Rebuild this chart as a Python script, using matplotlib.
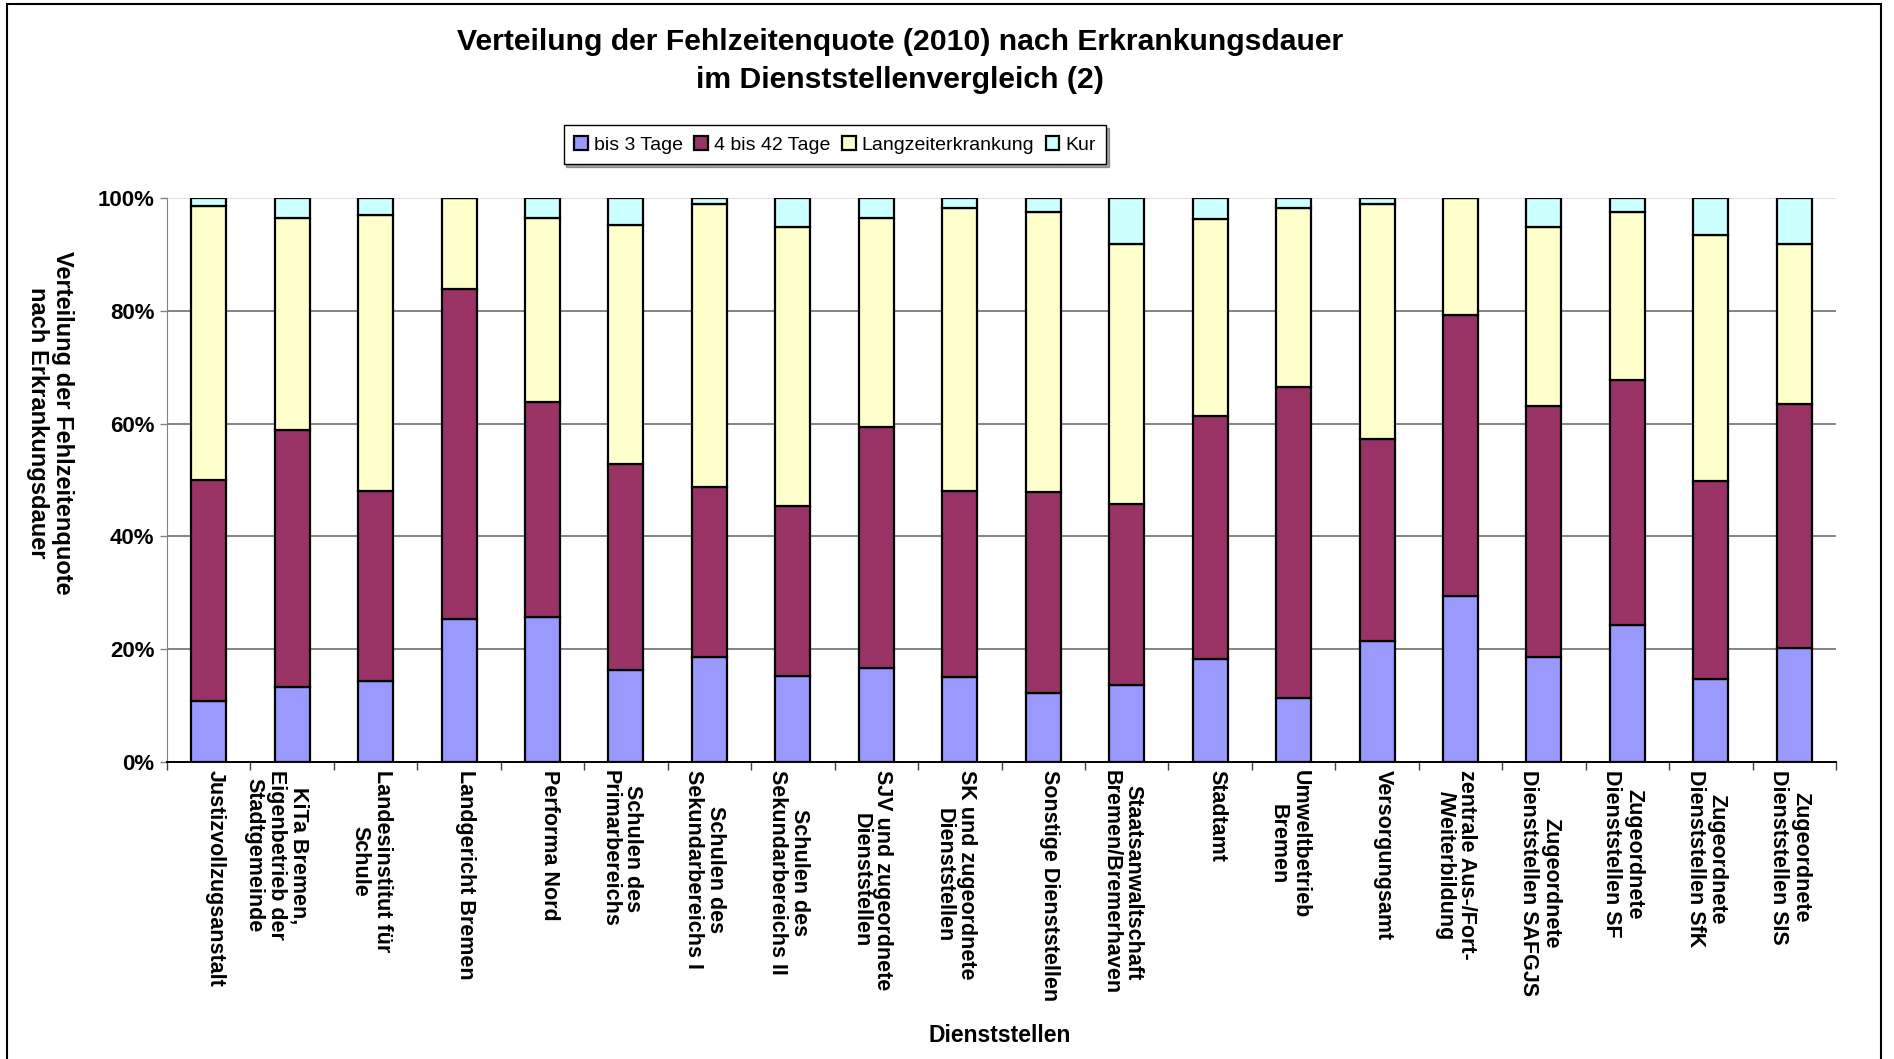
"""Fehlzeitenquote 2010 nach Erkrankungsdauer — gestapelte 100%-Balken je Dienststelle."""
import numpy as np
import matplotlib.pyplot as plt
import matplotlib.transforms as mtransforms
from matplotlib.ticker import PercentFormatter, FixedLocator
from matplotlib.patches import Rectangle

plt.rcParams["font.family"] = ["Liberation Sans", "DejaVu Sans"]
plt.rcParams["font.weight"] = "bold"

dienststellen = [
    "Justizvollzugsanstalt",
    "KiTa Bremen,\nEigenbetrieb der\nStadtgemeinde",
    "Landesinstitut für\nSchule",
    "Landgericht Bremen",
    "Performa Nord",
    "Schulen des\nPrimarbereichs",
    "Schulen des\nSekundarbereichs I",
    "Schulen des\nSekundarbereichs II",
    "SJV und zugeordnete\nDienststellen",
    "SK und zugeordnete\nDienststellen",
    "Sonstige Dienststellen",
    "Staatsanwaltschaft\nBremen/Bremerhaven",
    "Stadtamt",
    "Umweltbetrieb\nBremen",
    "Versorgungsamt",
    "zentrale Aus-/Fort-\n/Weiterbildung",
    "Zugeordnete\nDienststellen SAFGJS",
    "Zugeordnete\nDienststellen SF",
    "Zugeordnete\nDienststellen SfK",
    "Zugeordnete\nDienststellen SIS",
]

# Anteile in Prozent
bis_3_tage = [10.9, 13.3, 14.3, 25.4, 25.7, 16.3, 18.7, 15.2, 16.7, 15.0,
              12.3, 13.7, 18.3, 11.3, 21.4, 29.4, 18.7, 24.3, 14.7, 20.3]
tage_4_42 = [39.1, 45.5, 33.8, 58.5, 38.1, 36.5, 30.1, 30.2, 42.7, 33.1,
             35.5, 32.1, 43.1, 55.2, 35.8, 49.8, 44.5, 43.5, 35.1, 43.1]
langzeit = [48.5, 37.7, 48.8, 16.1, 32.7, 42.4, 50.1, 49.5, 37.1, 50.1,
            49.7, 46.1, 34.8, 31.7, 41.7, 20.8, 31.7, 29.7, 43.7, 28.5]
kur = [1.5, 3.5, 3.1, 0.0, 3.5, 4.8, 1.1, 5.1, 3.5, 1.8,
       2.5, 8.1, 3.8, 1.8, 1.1, 0.0, 5.1, 2.5, 6.5, 8.1]

serien = [
    ("bis 3 Tage", bis_3_tage, "#9999FF"),
    ("4 bis 42 Tage", tage_4_42, "#993366"),
    ("Langzeiterkrankung", langzeit, "#FFFFCC"),
    ("Kur", kur, "#CCFFFF"),
]

fig = plt.figure(figsize=(18.94, 10.59), dpi=100)
ax = fig.add_axes([167 / 1894, 1 - 762 / 1059, (1836 - 167) / 1894, (762 - 198) / 1059])

x = np.arange(len(dienststellen))
bottom = np.zeros(len(dienststellen))
for name, vals, color in serien:
    v = np.array(vals) / 100
    ax.bar(x, v, 0.42, bottom=bottom, color=color, edgecolor="black",
           linewidth=1.6, label=name, zorder=3)
    bottom += v

ax.set_xlim(-0.5, len(dienststellen) - 0.5)
ax.set_ylim(0, 1)
ax.set_yticks(np.arange(0, 1.01, 0.2))
ax.yaxis.set_major_formatter(PercentFormatter(1.0, decimals=0))
ax.tick_params(axis="y", labelsize=16, length=5, width=1, color="#808080", pad=4)

# Beschriftung: erste Zeile liegt knapp rechts der Kategorie, weitere Zeilen links davon
ax.set_xticks(x)
ax.set_xticklabels(dienststellen, rotation=270, rotation_mode="anchor",
                   ha="left", va="top", multialignment="center",
                   fontsize=15.5, linespacing=1.07)
ax.tick_params(axis="x", which="major", length=0, pad=6)
shift = mtransforms.ScaledTranslation(17 / 100, 0, fig.dpi_scale_trans)
for lbl in ax.get_xticklabels():
    lbl.set_transform(lbl.get_transform() + shift)
ax.xaxis.set_minor_locator(FixedLocator(np.arange(-0.5, len(dienststellen), 1.0)))
ax.tick_params(axis="x", which="minor", length=6, width=1, color="#404040")

for yv in [0.2, 0.4, 0.6, 0.8]:
    ax.axhline(yv, color="#6e6e6e", linewidth=1.2, zorder=1)
ax.axhline(1.0, color="#d9d9d9", linewidth=1.2, zorder=1)

for side in ["top", "right"]:
    ax.spines[side].set_visible(False)
ax.spines["left"].set_color("#808080")
ax.spines["bottom"].set_color("black")
ax.spines["bottom"].set_linewidth(1.4)

ax.set_ylabel("Verteilung der Fehlzeitenquote\nnach Erkrankungsdauer",
              fontsize=17, fontweight="bold", rotation=270, labelpad=0,
              linespacing=1.15)
ax.yaxis.set_label_coords((50 - 167) / (1836 - 167), (762 - 423) / (762 - 198))
ax.yaxis.label.set_va("center")

fig.text(1000 / 1894, 1 - 1036 / 1059, "Dienststellen", ha="center", va="center",
         fontsize=16.5, fontweight="bold")
fig.text(900 / 1894, 1 - 61 / 1059,
         "Verteilung der Fehlzeitenquote (2010) nach Erkrankungsdauer\nim Dienststellenvergleich (2)",
         ha="center", va="center", fontsize=21.7, linespacing=1.5, fontweight="bold")

leg = fig.legend(loc="center", bbox_to_anchor=(835 / 1894, 1 - 145 / 1059), ncol=4,
                 frameon=True, fancybox=False, shadow=True,
                 handlelength=0.7, handleheight=0.7, handletextpad=0.3,
                 columnspacing=0.6, borderpad=0.55, prop={"weight": "normal", "size": 14})
leg.get_frame().set_edgecolor("black")
leg.get_frame().set_linewidth(1.0)

# Rahmen um die gesamte Grafik
fig.patches.append(Rectangle((7 / 1894, -0.02), (1881 - 7) / 1894, 1.02 - 4 / 1059,
                             transform=fig.transFigure, fill=False,
                             edgecolor="black", linewidth=1.5))

fig.savefig("out.png", dpi=100)
